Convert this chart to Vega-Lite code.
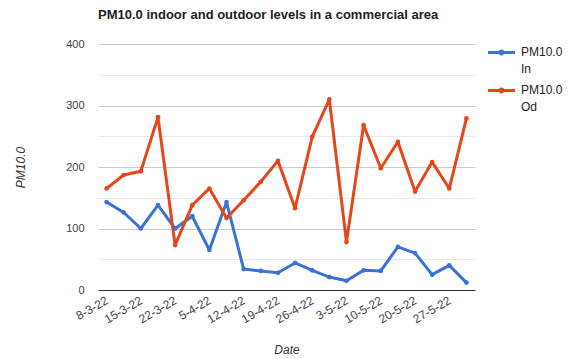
{
  "$schema": "https://vega.github.io/schema/vega-lite/v6.json",
  "width": 377,
  "height": 246,
  "autosize": {"type": "none"},
  "padding": {"left": 98, "top": 44, "right": 99, "bottom": 69},
  "background": "white",
  "title": {
    "text": "PM10.0 indoor and outdoor levels in a commercial area",
    "anchor": "start",
    "frame": "group",
    "font": "Liberation Sans",
    "fontSize": 13,
    "fontWeight": "bold",
    "color": "#222222",
    "offset": 16
  },
  "data": {
    "values": [
      {"i": 0, "date": "8-3-22", "series": "PM10.0 In", "pm": 143},
      {"i": 1, "date": "11-3-22", "series": "PM10.0 In", "pm": 126},
      {"i": 2, "date": "15-3-22", "series": "PM10.0 In", "pm": 100},
      {"i": 3, "date": "18-3-22", "series": "PM10.0 In", "pm": 138},
      {"i": 4, "date": "22-3-22", "series": "PM10.0 In", "pm": 100},
      {"i": 5, "date": "25-3-22", "series": "PM10.0 In", "pm": 120},
      {"i": 6, "date": "5-4-22", "series": "PM10.0 In", "pm": 65},
      {"i": 7, "date": "8-4-22", "series": "PM10.0 In", "pm": 143},
      {"i": 8, "date": "12-4-22", "series": "PM10.0 In", "pm": 34},
      {"i": 9, "date": "15-4-22", "series": "PM10.0 In", "pm": 31},
      {"i": 10, "date": "19-4-22", "series": "PM10.0 In", "pm": 28},
      {"i": 11, "date": "22-4-22", "series": "PM10.0 In", "pm": 44},
      {"i": 12, "date": "26-4-22", "series": "PM10.0 In", "pm": 32},
      {"i": 13, "date": "29-4-22", "series": "PM10.0 In", "pm": 21},
      {"i": 14, "date": "3-5-22", "series": "PM10.0 In", "pm": 15},
      {"i": 15, "date": "6-5-22", "series": "PM10.0 In", "pm": 32},
      {"i": 16, "date": "10-5-22", "series": "PM10.0 In", "pm": 31},
      {"i": 17, "date": "13-5-22", "series": "PM10.0 In", "pm": 70},
      {"i": 18, "date": "20-5-22", "series": "PM10.0 In", "pm": 60},
      {"i": 19, "date": "24-5-22", "series": "PM10.0 In", "pm": 25},
      {"i": 20, "date": "27-5-22", "series": "PM10.0 In", "pm": 40},
      {"i": 21, "date": "31-5-22", "series": "PM10.0 In", "pm": 12},
      {"i": 0, "date": "8-3-22", "series": "PM10.0 Od", "pm": 165},
      {"i": 1, "date": "11-3-22", "series": "PM10.0 Od", "pm": 187},
      {"i": 2, "date": "15-3-22", "series": "PM10.0 Od", "pm": 193},
      {"i": 3, "date": "18-3-22", "series": "PM10.0 Od", "pm": 281},
      {"i": 4, "date": "22-3-22", "series": "PM10.0 Od", "pm": 73},
      {"i": 5, "date": "25-3-22", "series": "PM10.0 Od", "pm": 138},
      {"i": 6, "date": "5-4-22", "series": "PM10.0 Od", "pm": 165},
      {"i": 7, "date": "8-4-22", "series": "PM10.0 Od", "pm": 117},
      {"i": 8, "date": "12-4-22", "series": "PM10.0 Od", "pm": 146},
      {"i": 9, "date": "15-4-22", "series": "PM10.0 Od", "pm": 176},
      {"i": 10, "date": "19-4-22", "series": "PM10.0 Od", "pm": 210},
      {"i": 11, "date": "22-4-22", "series": "PM10.0 Od", "pm": 133},
      {"i": 12, "date": "26-4-22", "series": "PM10.0 Od", "pm": 249},
      {"i": 13, "date": "29-4-22", "series": "PM10.0 Od", "pm": 310},
      {"i": 14, "date": "3-5-22", "series": "PM10.0 Od", "pm": 78},
      {"i": 15, "date": "6-5-22", "series": "PM10.0 Od", "pm": 268},
      {"i": 16, "date": "10-5-22", "series": "PM10.0 Od", "pm": 198},
      {"i": 17, "date": "13-5-22", "series": "PM10.0 Od", "pm": 241},
      {"i": 18, "date": "20-5-22", "series": "PM10.0 Od", "pm": 160},
      {"i": 19, "date": "24-5-22", "series": "PM10.0 Od", "pm": 208},
      {"i": 20, "date": "27-5-22", "series": "PM10.0 Od", "pm": 165},
      {"i": 21, "date": "31-5-22", "series": "PM10.0 Od", "pm": 279}
    ]
  },
  "mark": {
    "type": "line",
    "strokeWidth": 3,
    "strokeJoin": "round",
    "point": {"size": 22, "filled": true}
  },
  "encoding": {
    "x": {
      "field": "date",
      "type": "ordinal",
      "sort": {"field": "i"},
      "scale": {"type": "point", "padding": 0.5},
      "axis": {
        "title": "Date",
        "titleFont": "Liberation Sans",
        "titleFontSize": 12,
        "titleFontStyle": "italic",
        "titleFontWeight": "normal",
        "titleColor": "#333333",
        "titlePadding": 20,
        "values": ["8-3-22", "15-3-22", "22-3-22", "5-4-22", "12-4-22", "19-4-22", "26-4-22", "3-5-22", "10-5-22", "20-5-22", "27-5-22"],
        "labelAngle": -30,
        "labelAlign": "right",
        "labelBaseline": "middle",
        "labelFont": "Liberation Sans",
        "labelFontSize": 12,
        "labelColor": "#444444",
        "labelPadding": 9,
        "labelOverlap": false,
        "ticks": false,
        "domain": false,
        "grid": false
      }
    },
    "y": {
      "field": "pm",
      "type": "quantitative",
      "scale": {"domain": [0, 400], "nice": false},
      "axis": {
        "title": "PM10.0",
        "titleFont": "Liberation Sans",
        "titleFontSize": 12,
        "titleFontStyle": "italic",
        "titleFontWeight": "normal",
        "titleColor": "#333333",
        "titlePadding": 38,
        "values": [0, 50, 100, 150, 200, 250, 300, 350, 400],
        "labelExpr": "datum.value % 100 === 0 ? datum.label : ''",
        "labelFont": "Liberation Sans",
        "labelFontSize": 11,
        "labelColor": "#444444",
        "labelPadding": 14,
        "ticks": false,
        "domain": false,
        "gridColor": {"condition": [{"test": "datum.value === 0", "value": "#333333"}, {"test": "datum.value % 100 === 0", "value": "#cccccc"}], "value": "#ebebeb"}
      }
    },
    "color": {
      "field": "series",
      "type": "nominal",
      "scale": {"domain": ["PM10.0 In", "PM10.0 Od"], "range": ["#3a72d6", "#e4471a"]},
      "legend": {
        "title": null,
        "orient": "none",
        "legendX": 390,
        "legendY": -5,
        "symbolType": "M-1,-0.11H1V0.11H-1Z M0.22,0A0.22,0.22 0 1,1 -0.22,0A0.22,0.22 0 1,1 0.22,0Z",
        "symbolSize": 729,
        "symbolStrokeWidth": 0,
        "labelExpr": "split(datum.label, ' ')",
        "labelFont": "Liberation Sans",
        "labelFontSize": 12,
        "labelColor": "#222222",
        "labelBaseline": "top",
        "labelOffset": 6,
        "rowPadding": 2,
        "labelLimit": 80,
        "encode": {"labels": {"update": {"dy": {"value": -6}, "lineHeight": {"value": 17}}}}
      }
    }
  },
  "config": {
    "view": {"stroke": null},
    "axisY": {"gridWidth": 1}
  }
}
